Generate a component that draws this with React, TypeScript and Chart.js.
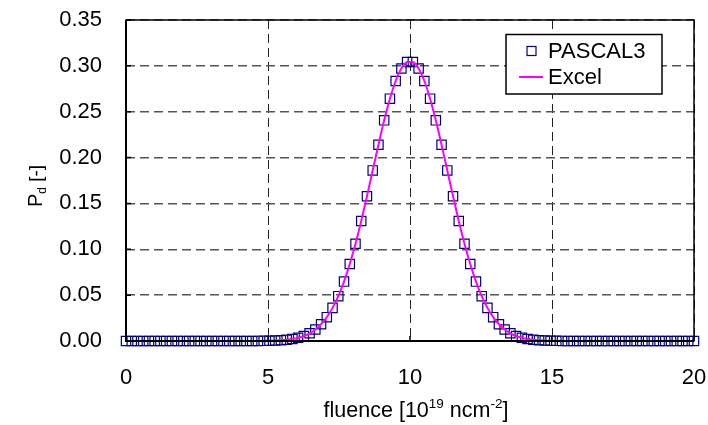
import React, { useEffect, useRef } from "react";
import { Chart, registerables } from "chart.js";

Chart.register(...registerables);

// fluence [10^19 ncm^-2]
const fluence = [
  0, 0.202, 0.404, 0.606, 0.808, 1.010, 1.212, 1.414, 1.616, 1.818,
  2.020, 2.222, 2.424, 2.626, 2.828, 3.030, 3.232, 3.434, 3.636, 3.838,
  4.040, 4.242, 4.444, 4.646, 4.848, 5.051, 5.253, 5.455, 5.657, 5.859,
  6.061, 6.263, 6.465, 6.667, 6.869, 7.071, 7.273, 7.475, 7.677, 7.879,
  8.081, 8.283, 8.485, 8.687, 8.889, 9.091, 9.293, 9.495, 9.697, 9.899,
  10.101, 10.303, 10.505, 10.707, 10.909, 11.111, 11.313, 11.515, 11.717, 11.919,
  12.121, 12.323, 12.525, 12.727, 12.929, 13.131, 13.333, 13.535, 13.737, 13.939,
  14.141, 14.343, 14.545, 14.747, 14.949, 15.152, 15.354, 15.556, 15.758, 15.960,
  16.162, 16.364, 16.566, 16.768, 16.970, 17.172, 17.374, 17.576, 17.778, 17.980,
  18.182, 18.384, 18.586, 18.788, 18.990, 19.192, 19.394, 19.596, 19.798, 20.000,
];

// PASCAL3 results (P_d)
const pascal3 = [
  0, 0, 0, 0, 0, 0, 0, 0, 0, 0,
  0, 0, 0, 0, 0, 0, 0, 0, 0, 0,
  0, 0, 0, 0.0001, 0.0002, 0.0003, 0.0005, 0.0008, 0.0014, 0.0022,
  0.0036, 0.0055, 0.0084, 0.0126, 0.0183, 0.0260, 0.0361, 0.0489, 0.0648, 0.0839,
  0.1060, 0.1309, 0.1578, 0.1860, 0.2140, 0.2406, 0.2642, 0.2835, 0.2971, 0.3041,
  0.3041, 0.2971, 0.2835, 0.2642, 0.2406, 0.2140, 0.1860, 0.1578, 0.1309, 0.1060,
  0.0839, 0.0648, 0.0489, 0.0361, 0.0260, 0.0183, 0.0126, 0.0084, 0.0055, 0.0036,
  0.0022, 0.0014, 0.0008, 0.0005, 0.0003, 0.0002, 0.0001, 0, 0, 0,
  0, 0, 0, 0, 0, 0, 0, 0, 0, 0,
  0, 0, 0, 0, 0, 0, 0, 0, 0, 0,
];

// Excel reference curve (P_d)
const excel = [
  0, 0, 0, 0, 0, 0, 0, 0, 0, 0,
  0, 0, 0, 0, 0, 0, 0, 0, 0, 0,
  0, 0, 0, 0.0001, 0.0002, 0.0003, 0.0005, 0.0008, 0.0014, 0.0022,
  0.0036, 0.0055, 0.0084, 0.0126, 0.0183, 0.0260, 0.0361, 0.0489, 0.0648, 0.0839,
  0.1060, 0.1309, 0.1578, 0.1860, 0.2140, 0.2406, 0.2642, 0.2835, 0.2971, 0.3041,
  0.3041, 0.2971, 0.2835, 0.2642, 0.2406, 0.2140, 0.1860, 0.1578, 0.1309, 0.1060,
  0.0839, 0.0648, 0.0489, 0.0361, 0.0260, 0.0183, 0.0126, 0.0084, 0.0055, 0.0036,
  0.0022, 0.0014, 0.0008, 0.0005, 0.0003, 0.0002, 0.0001, 0, 0, 0,
  0, 0, 0, 0, 0, 0, 0, 0, 0, 0,
  0, 0, 0, 0, 0, 0, 0, 0, 0, 0,
];

const xTicks = [0, 5, 10, 15, 20];
const yTicks = [0, 0.05, 0.1, 0.15, 0.2, 0.25, 0.3, 0.35];
const seriesNames = ["PASCAL3", "Excel"];

const FONT = '"Liberation Sans", Arial, Helvetica, sans-serif';
const MARKER = "#000080";
const LINE = "#ff00ff";

type Piece = { t: string; s: number; dy: number };

function drawPieces(ctx: CanvasRenderingContext2D, pieces: Piece[], cx: number, baseY: number) {
  let total = 0;
  for (const p of pieces) {
    ctx.font = `${p.s}px ${FONT}`;
    total += ctx.measureText(p.t).width;
  }
  let x = cx - total / 2;
  ctx.textAlign = "left";
  ctx.textBaseline = "alphabetic";
  for (const p of pieces) {
    ctx.font = `${p.s}px ${FONT}`;
    ctx.fillText(p.t, x, baseY + p.dy);
    x += ctx.measureText(p.t).width;
  }
}

const decorPlugin = {
  id: "decor",
  afterDraw(chart: any) {
    const { ctx, chartArea: a, scales } = chart;
    ctx.save();
    // inner tick marks
    ctx.strokeStyle = "#000";
    ctx.lineWidth = 1.5;
    ctx.setLineDash([]);
    ctx.beginPath();
    for (const v of yTicks) {
      const y = scales.y.getPixelForValue(v);
      ctx.moveTo(a.left, y);
      ctx.lineTo(a.left + 5, y);
    }
    for (const v of xTicks) {
      const x = scales.x.getPixelForValue(v);
      ctx.moveTo(x, a.bottom);
      ctx.lineTo(x, a.bottom - 5);
    }
    ctx.stroke();
    // frame
    ctx.lineWidth = 1.5;
    ctx.strokeRect(a.left, a.top, a.right - a.left, a.bottom - a.top);
    ctx.lineWidth = 2;
    ctx.beginPath();
    ctx.moveTo(a.left, a.top);
    ctx.lineTo(a.left, a.bottom);
    ctx.lineTo(a.right, a.bottom);
    ctx.stroke();

    // legend
    const lx = a.right - 188;
    const ly = a.top + 14.5;
    const lw = 156;
    const lh = 59.5;
    ctx.fillStyle = "#fff";
    ctx.fillRect(lx, ly, lw, lh);
    ctx.lineWidth = 1.5;
    ctx.strokeStyle = "#000";
    ctx.strokeRect(lx, ly, lw, lh);
    // marker
    ctx.strokeStyle = MARKER;
    ctx.lineWidth = 1.2;
    ctx.strokeRect(lx + 21, ly + 12, 9, 9);
    // line
    ctx.strokeStyle = LINE;
    ctx.lineWidth = 2;
    ctx.beginPath();
    ctx.moveTo(lx + 13, ly + 42.5);
    ctx.lineTo(lx + 37, ly + 42.5);
    ctx.stroke();
    ctx.fillStyle = "#000";
    ctx.font = `22px ${FONT}`;
    ctx.textAlign = "left";
    ctx.textBaseline = "middle";
    ctx.fillText(seriesNames[0], lx + 42, ly + 17);
    ctx.fillText(seriesNames[1], lx + 42, ly + 43);

    // x title
    ctx.fillStyle = "#000";
    const cx = (a.left + a.right) / 2 + 6;
    drawPieces(
      ctx,
      [
        { t: "fluence [10", s: 21.5, dy: 0 },
        { t: "19", s: 13.5, dy: -9 },
        { t: " ncm", s: 21.5, dy: 0 },
        { t: "-2", s: 13.5, dy: -9 },
        { t: "]", s: 21.5, dy: 0 },
      ],
      cx,
      417
    );
    // y title
    ctx.save();
    ctx.translate(42, 186);
    ctx.rotate(-Math.PI / 2);
    drawPieces(
      ctx,
      [
        { t: "P", s: 20, dy: 0 },
        { t: "d", s: 12, dy: 4 },
        { t: " [-]", s: 19, dy: 0 },
      ],
      0,
      0
    );
    ctx.restore();
    ctx.restore();
  },
};

export default function App() {
  const ref = useRef<HTMLCanvasElement | null>(null);

  useEffect(() => {
    document.body.style.margin = "0";
    const canvas = ref.current;
    if (!canvas) return;
    const chart = new Chart(canvas, {
      type: "scatter",
      data: {
        datasets: [
          {
            label: seriesNames[1],
            data: fluence.map((x, i) => ({ x, y: excel[i] })),
            showLine: true,
            borderColor: LINE,
            backgroundColor: LINE,
            borderWidth: 2,
            pointRadius: 0,
            cubicInterpolationMode: "monotone",
            order: 0,
            clip: false,
          } as any,
          {
            label: seriesNames[0],
            data: fluence.map((x, i) => ({ x, y: pascal3[i] })),
            showLine: false,
            pointStyle: "rect",
            pointRadius: 6.6,
            pointBorderWidth: 1.2,
            borderColor: MARKER,
            pointBorderColor: MARKER,
            backgroundColor: "rgba(0,0,0,0)",
            pointBackgroundColor: "rgba(0,0,0,0)",
            order: 1,
            clip: false,
          } as any,
        ],
      },
      options: {
        animation: false,
        responsive: false,
        devicePixelRatio: 1,
        layout: { padding: { left: 0, right: 14, top: 20, bottom: 0 } },
        plugins: {
          legend: { display: false },
          tooltip: { enabled: false },
        },
        scales: {
          x: {
            type: "linear",
            min: 0,
            max: 20,
            afterFit: (s: any) => {
              s.height = 84;
              s.paddingLeft = 0;
              s.paddingRight = 0;
            },
            afterBuildTicks: (s: any) => {
              s.ticks = xTicks.map((v) => ({ value: v }));
            },
            ticks: {
              font: { family: FONT, size: 22 },
              color: "#000",
              padding: 24,
              maxRotation: 0,
              callback: (v: any) => String(v),
            },
            grid: {
              color: "#222",
              lineWidth: 1,
              drawTicks: false,
            },
            border: { display: false, dash: [9, 5] },
          },
          y: {
            type: "linear",
            min: 0,
            max: 0.35,
            afterFit: (s: any) => {
              s.width = 126;
              s.paddingTop = 0;
              s.paddingBottom = 0;
            },
            afterBuildTicks: (s: any) => {
              s.ticks = yTicks.map((v) => ({ value: v }));
            },
            ticks: {
              font: { family: FONT, size: 22 },
              color: "#000",
              padding: 24,
              callback: (v: any) => Number(v).toFixed(2),
            },
            grid: {
              color: "#555",
              lineWidth: 1.4,
              drawTicks: false,
            },
            border: { display: false, dash: [9, 5] },
          },
        },
      },
      plugins: [decorPlugin],
    });
    return () => chart.destroy();
  }, []);

  return (
    <div style={{ position: "fixed", left: 0, top: 0, width: 708, height: 425, background: "#fff" }}>
      <canvas ref={ref} width={708} height={425} style={{ display: "block", width: 708, height: 425 }} />
    </div>
  );
}
